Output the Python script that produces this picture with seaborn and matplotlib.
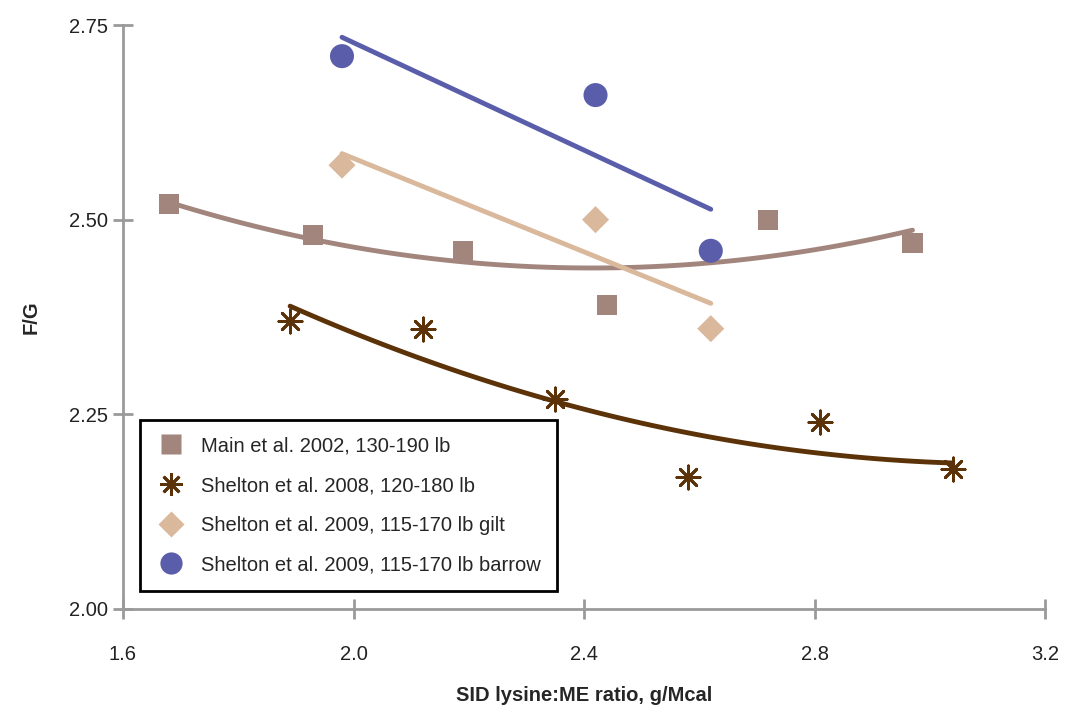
import numpy as np
import pandas as pd
import matplotlib
matplotlib.use("Agg")
import matplotlib.pyplot as plt
from matplotlib.lines import Line2D
import seaborn as sns

# Data
main_x = [1.68, 1.93, 2.19, 2.44, 2.72, 2.97]
main_y = [2.52, 2.48, 2.46, 2.39, 2.50, 2.47]
s08_x = [1.89, 2.12, 2.35, 2.58, 2.81, 3.04]
s08_y = [2.37, 2.36, 2.27, 2.17, 2.24, 2.18]
gilt_x = [1.98, 2.42, 2.62]
gilt_y = [2.57, 2.50, 2.36]
barrow_x = [1.98, 2.42, 2.62]
barrow_y = [2.71, 2.66, 2.46]

labels = ["Main et al. 2002, 130-190 lb",
          "Shelton et al. 2008, 120-180 lb",
          "Shelton et al. 2009, 115-170 lb gilt",
          "Shelton et al. 2009, 115-170 lb barrow"]
x_ticks = [1.6, 2.0, 2.4, 2.8, 3.2]
y_ticks = [2.00, 2.25, 2.50, 2.75]

c_main = "#a2857d"
c_s08 = "#5c3309"
c_gilt = "#d9b89c"
c_barrow = "#5a5eaa"

sns.set_style("white")
plt.rcParams['font.family'] = ['Liberation Sans', 'DejaVu Sans']

fig = plt.figure(figsize=(10.65, 7.13), dpi=100)
ax = fig.add_axes([123/1065, 1-609/713, 922/1065, 584/713])

def fit(xs, ys, deg, n=100):
    p = np.polyfit(xs, ys, deg)
    xx = np.linspace(min(xs), max(xs), n)
    return pd.DataFrame({"x": xx, "y": np.polyval(p, xx)})

# fits
sns.lineplot(data=fit(main_x, main_y, 2), x="x", y="y", ax=ax, color=c_main, lw=3.5)
sns.lineplot(data=fit(s08_x, s08_y, 2), x="x", y="y", ax=ax, color=c_s08, lw=3.5)
sns.lineplot(data=fit(gilt_x, gilt_y, 1), x="x", y="y", ax=ax, color=c_gilt, lw=3.5)
sns.lineplot(data=fit(barrow_x, barrow_y, 1), x="x", y="y", ax=ax, color=c_barrow, lw=3.5)

star = (8, 2, 0)
sns.scatterplot(x=main_x, y=main_y, ax=ax, marker="s", s=210, color=c_main, edgecolor="none", zorder=3)
sns.scatterplot(x=s08_x, y=s08_y, ax=ax, marker=star, s=280, color=c_s08, linewidth=2, zorder=3)
sns.scatterplot(x=gilt_x, y=gilt_y, ax=ax, marker="D", s=190, color=c_gilt, edgecolor="none", zorder=3)
sns.scatterplot(x=barrow_x, y=barrow_y, ax=ax, marker="o", s=300, color=c_barrow, edgecolor="none", zorder=3)

ax.set_xlim(1.6, 3.2)
ax.set_ylim(2.0, 2.75)
ax.set_xticks(x_ticks)
ax.set_xticklabels([f"{v:.1f}" for v in x_ticks])
ax.set_yticks(y_ticks)
ax.set_yticklabels([f"{v:.2f}" for v in y_ticks])
for s in ["top", "right"]:
    ax.spines[s].set_visible(False)
for s in ["left", "bottom"]:
    ax.spines[s].set_color("#9a9a9a")
    ax.spines[s].set_linewidth(2)
ax.tick_params(axis="both", bottom=True, left=True, direction="inout", length=14, width=2,
               color="#9a9a9a", labelsize=14.5, labelcolor="#222222")
ax.tick_params(axis="x", pad=19)
ax.tick_params(axis="y", pad=4)
ax.set_xlabel("SID lysine:ME ratio, g/Mcal", fontsize=14.5, fontweight="bold", labelpad=16)
ax.set_ylabel("F/G", fontsize=14.5, fontweight="bold", labelpad=20)

handles = [
    Line2D([], [], ls="none", marker="s", ms=14, color=c_main, mec="none"),
    Line2D([], [], ls="none", marker=star, ms=16, color=c_s08, mew=2),
    Line2D([], [], ls="none", marker="D", ms=13, color=c_gilt, mec="none"),
    Line2D([], [], ls="none", marker="o", ms=16, color=c_barrow, mec="none"),
]
leg = ax.legend(handles, labels, loc="upper left", bbox_to_anchor=(17/922, 1-(420-25)/584),
                borderaxespad=0, frameon=True, fancybox=False, fontsize=14.5, framealpha=1,
                labelspacing=1.02, handletextpad=0.8, borderpad=0.82, handlelength=1.4)
leg.get_frame().set_edgecolor("black")
leg.get_frame().set_linewidth(2)

fig.savefig("out.png", dpi=100)
